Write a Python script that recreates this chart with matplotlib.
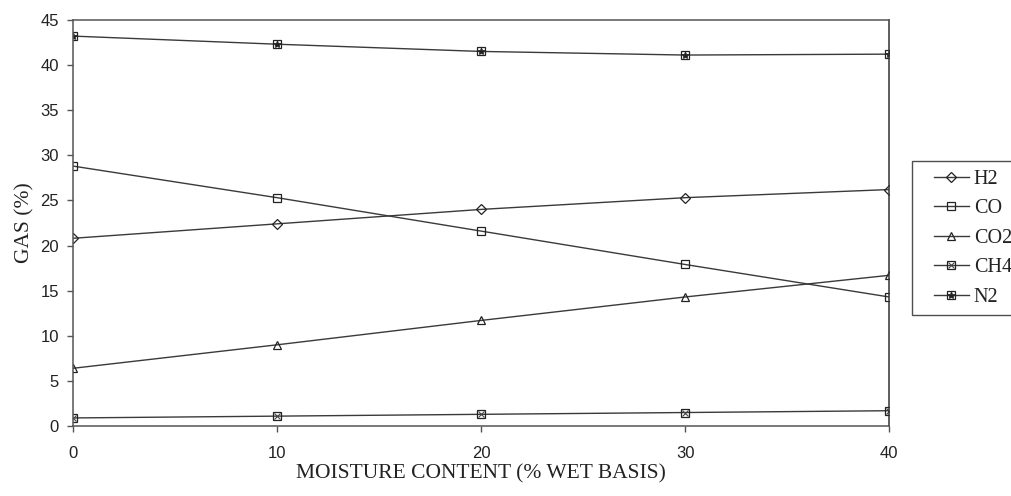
import matplotlib
matplotlib.use('Agg')
import matplotlib.pyplot as plt
from matplotlib.lines import Line2D
from matplotlib.legend_handler import HandlerLine2D, HandlerTuple

moisture = [0, 10, 20, 30, 40]
h2 = [20.8, 22.4, 24.0, 25.3, 26.2]
co = [28.8, 25.3, 21.6, 17.9, 14.3]
co2 = [6.4, 9.0, 11.7, 14.3, 16.7]
ch4 = [0.9, 1.1, 1.3, 1.5, 1.7]
n2 = [43.2, 42.3, 41.5, 41.1, 41.2]

LINE = '#3a3a3a'
EDGE = '#222222'
SERIF = 'Liberation Serif'
SANS = 'Liberation Sans'

fig = plt.figure(figsize=(10.12, 4.96), dpi=100)
ax = fig.add_axes([0.0721, 0.141, 0.8065, 0.819])

common = dict(color=LINE, linewidth=1.0, markerfacecolor='none',
              markeredgecolor=EDGE, markeredgewidth=0.9)

h_h2, = ax.plot(moisture, h2, marker='D', markersize=4.8, **common)
h_co, = ax.plot(moisture, co, marker='s', markersize=6.3, **common)
h_co2, = ax.plot(moisture, co2, marker='^', markersize=6, **common)

# boxed markers: square outline with a cross / star inside
h_ch4, = ax.plot(moisture, ch4, marker='s', markersize=6.3, **common)
h_ch4x, = ax.plot(moisture, ch4, linestyle='none', marker='x', markersize=4.5,
                  markeredgecolor='#444444', markeredgewidth=0.8)
h_n2, = ax.plot(moisture, n2, marker='s', markersize=6.3, **common)
h_n2x, = ax.plot(moisture, n2, linestyle='none', marker='*', markersize=6,
                 markerfacecolor=EDGE, markeredgecolor=EDGE,
                 markeredgewidth=0.5)

ax.set_xlim(0, 40)
ax.set_ylim(0, 45)
ax.set_xticks(range(0, 41, 10))
ax.set_yticks(range(0, 46, 5))
for spine in ax.spines.values():
    spine.set_color('#555555')
    spine.set_linewidth(1.1)
ax.spines['right'].set_color('#333333')
ax.tick_params(direction='out', length=4, width=1, color='#555555',
               labelsize=12)
ax.tick_params(axis='x', pad=10)
ax.tick_params(axis='y', pad=6)
for lbl in ax.get_xticklabels() + ax.get_yticklabels():
    lbl.set_fontfamily(SANS)
    lbl.set_color('#222222')

ax.set_xlabel('MOISTURE CONTENT (% WET BASIS)', fontsize=15.5,
              family=SERIF, labelpad=3, color='#222222')
ax.set_ylabel('GAS (%)', fontsize=15.5, family=SERIF, labelpad=4,
              color='#222222')

handler_map = {Line2D: HandlerLine2D(xpad=0.65),
               tuple: HandlerTuple(ndivide=1, xpad=0.65)}
leg = fig.legend([h_h2, h_co, h_co2, (h_ch4, h_ch4x), (h_n2, h_n2x)],
                 ['H2', 'CO', 'CO2', 'CH4', 'N2'],
                 loc='upper left', bbox_to_anchor=(912 / 1012, 1 - 161 / 496),
                 prop={'family': SERIF, 'size': 14.5}, frameon=True,
                 fancybox=False, handlelength=2.4, handletextpad=0.25,
                 labelspacing=0.52, borderpad=0.42, borderaxespad=0,
                 handler_map=handler_map)
leg.get_frame().set_edgecolor(EDGE)
leg.get_frame().set_linewidth(1.0)
for txt in leg.get_texts():
    txt.set_color('#222222')

fig.savefig('out.png', dpi=100)
